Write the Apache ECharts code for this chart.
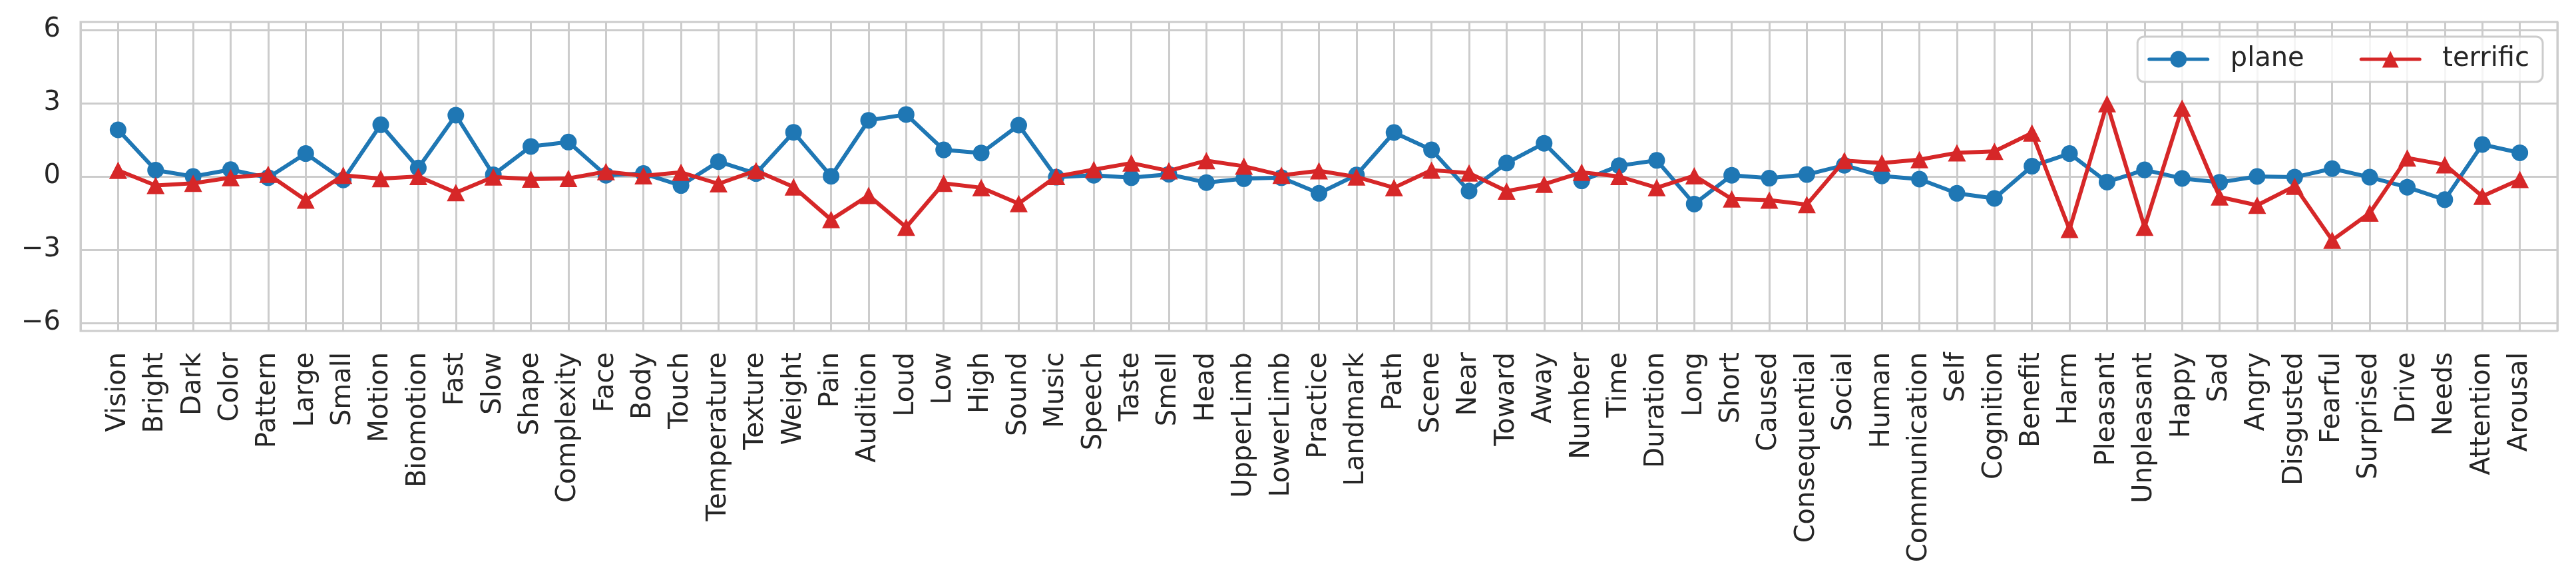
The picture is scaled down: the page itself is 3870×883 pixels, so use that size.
<!DOCTYPE html>
<html>
<head>
<meta charset="utf-8">
<script src="https://cdn.jsdelivr.net/npm/echarts@6/dist/echarts.min.js"></script>
<style>
html,body{margin:0;padding:0;background:#fff;}
#chart{width:3870px;height:883px;}
</style>
</head>
<body>
<div id="chart"></div>
<script>
const categories = ["Vision","Bright","Dark","Color","Pattern","Large","Small","Motion","Biomotion","Fast",
"Slow","Shape","Complexity","Face","Body","Touch","Temperature","Texture","Weight","Pain",
"Audition","Loud","Low","High","Sound","Music","Speech","Taste","Smell","Head",
"UpperLimb","LowerLimb","Practice","Landmark","Path","Scene","Near","Toward","Away","Number",
"Time","Duration","Long","Short","Caused","Consequential","Social","Human","Communication","Self",
"Cognition","Benefit","Harm","Pleasant","Unpleasant","Happy","Sad","Angry","Disgusted","Fearful",
"Surprised","Drive","Needs","Attention","Arousal"];

const plane = [1.91, 0.26, 0.0, 0.28, -0.05, 0.94, -0.14, 2.12, 0.35, 2.51,
 0.07, 1.23, 1.41, 0.05, 0.12, -0.37, 0.61, 0.12, 1.81, 0.01,
 2.30, 2.54, 1.09, 0.96, 2.10, -0.03, 0.05, -0.05, 0.09, -0.25,
 -0.09, -0.05, -0.69, 0.06, 1.80, 1.09, -0.60, 0.55, 1.36, -0.18,
 0.44, 0.66, -1.13, 0.05, -0.07, 0.08, 0.46, 0.02, -0.11, -0.69,
 -0.90, 0.42, 0.94, -0.23, 0.27, -0.08, -0.24, 0.0, -0.03, 0.32,
 -0.03, -0.44, -0.95, 1.31, 0.97];

const terrific = [0.25, -0.37, -0.28, -0.05, 0.09, -0.97, 0.05, -0.09, 0.0, -0.66,
 -0.02, -0.11, -0.08, 0.2, 0.03, 0.17, -0.3, 0.24, -0.43, -1.77,
 -0.78, -2.08, -0.28, -0.46, -1.11, 0.0, 0.28, 0.55, 0.23, 0.65,
 0.42, 0.05, 0.23, -0.02, -0.46, 0.26, 0.14, -0.6, -0.32, 0.17,
 0.0, -0.46, 0.03, -0.92, -0.97, -1.15, 0.65, 0.55, 0.69, 0.97,
 1.03, 1.78, -2.17, 2.98, -2.08, 2.8, -0.84, -1.18, -0.4, -2.61,
 -1.5, 0.76, 0.48, -0.81, -0.12];

const yTicks = [-6, -3, 0, 3, 6];

const chart = echarts.init(document.getElementById('chart'), null, {renderer: 'canvas'});
const font = 'DejaVu Sans';
const gridColor = '#cccccc';

chart.setOption({
  animation: false,
  backgroundColor: '#ffffff',
  grid: {
    left: 121, right: 28, top: 33, bottom: 386,
    show: true, borderColor: gridColor, borderWidth: 3, backgroundColor: 'transparent'
  },
  legend: {
    right: 50, top: 55,
    orient: 'horizontal',
    padding: [14, 20, 14, 15],
    itemWidth: 88, itemHeight: 31, itemGap: 83,
    borderColor: gridColor, borderWidth: 3, borderRadius: 10,
    backgroundColor: 'rgba(255,255,255,0.8)',
    lineStyle: {width: 5, cap: 'round'},
    textStyle: {fontFamily: font, fontSize: 40, color: '#262626', padding: [0, 0, 0, 29]},
    data: ['plane', 'terrific']
  },
  xAxis: {
    type: 'value', min: -1, max: categories.length, interval: 1,
    axisLine: {show: false}, axisTick: {show: false},
    splitLine: {show: true, lineStyle: {color: gridColor, width: 3}},
    axisLabel: {
      rotate: 90, margin: 32, fontFamily: font, fontSize: 40, color: '#262626',
      showMinLabel: true, showMaxLabel: true,
      formatter: v => (Number.isInteger(v) && v >= 0 && v < categories.length) ? categories[v] : ''
    }
  },
  yAxis: {
    type: 'value', min: -6.33, max: 6.33,
    axisLine: {show: false},
    axisTick: {show: false, customValues: yTicks},
    splitLine: {show: true, lineStyle: {color: gridColor, width: 3}},
    axisLabel: {
      customValues: yTicks, margin: 30, fontFamily: font, fontSize: 40, color: '#262626',
      formatter: v => v < 0 ? '\u2212' + Math.abs(v) : String(v)
    }
  },
  series: [
    {
      name: 'plane', type: 'line',
      data: plane.map((v, i) => [i, v]),
      symbol: 'circle', symbolSize: 25,
      lineStyle: {color: '#1f77b4', width: 6},
      itemStyle: {color: '#1f77b4', borderWidth: 0},
      z: 2
    },
    {
      name: 'terrific', type: 'line',
      data: terrific.map((v, i) => [i, v]),
      symbol: 'triangle', symbolSize: [27, 26],
      lineStyle: {color: '#d62728', width: 6},
      itemStyle: {color: '#d62728', borderWidth: 0},
      z: 3
    }
  ]
});
</script>
</body>
</html>
